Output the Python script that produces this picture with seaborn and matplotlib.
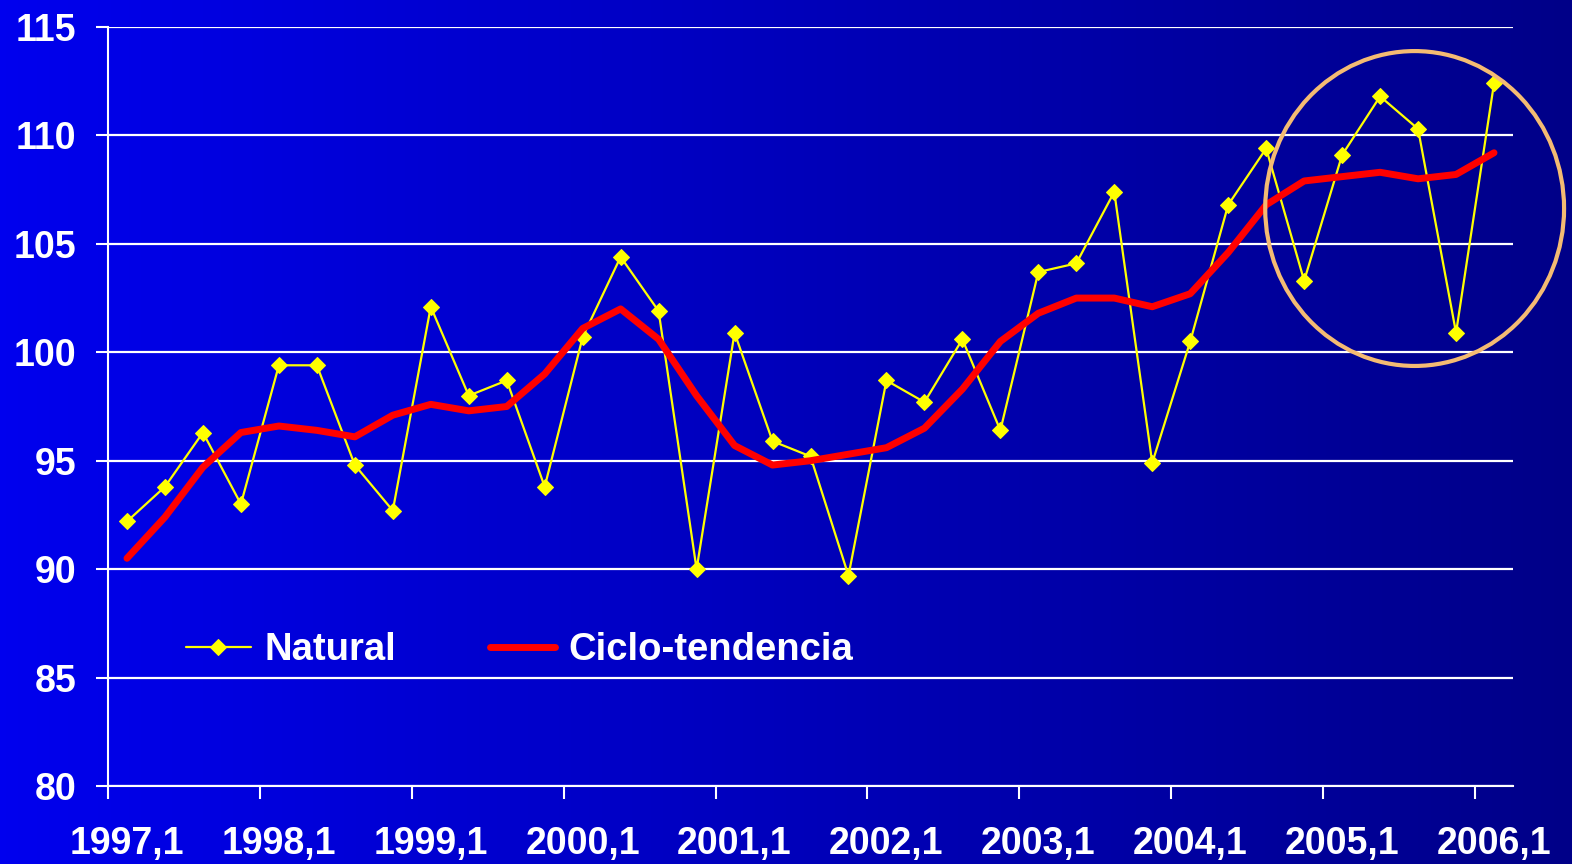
import numpy as np
import pandas as pd
import matplotlib
matplotlib.use("Agg")
import matplotlib.pyplot as plt
from matplotlib.colors import LinearSegmentedColormap
from matplotlib.patches import Ellipse
import seaborn as sns

# quarterly index, 1997 Q1 .. 2006 Q1
natural = [92.2, 93.8, 96.3, 93.0, 99.4, 99.4, 94.8, 92.7,
           102.1, 98.0, 98.7, 93.8, 100.7, 104.4, 101.9, 90.0,
           100.9, 95.9, 95.2, 89.7, 98.7, 97.7, 100.6, 96.4,
           103.7, 104.1, 107.4, 94.9, 100.5, 106.8, 109.4, 103.3,
           109.1, 111.8, 110.3, 100.9, 112.4]
ciclo = [90.5, 92.4, 94.7, 96.3, 96.6, 96.4, 96.1, 97.1,
         97.6, 97.3, 97.5, 99.0, 101.1, 102.0, 100.6, 98.0,
         95.7, 94.8, 95.0, 95.3, 95.6, 96.5, 98.3, 100.5,
         101.8, 102.5, 102.5, 102.1, 102.7, 104.6, 106.8, 107.9,
         108.1, 108.3, 108.0, 108.2, 109.2]
year_labels = ["1997,1", "1998,1", "1999,1", "2000,1", "2001,1",
               "2002,1", "2003,1", "2004,1", "2005,1", "2006,1"]

df = pd.DataFrame({"t": np.arange(len(natural)), "Natural": natural,
                   "Ciclo-tendencia": ciclo})

sns.set_style("white")
plt.rcParams["font.family"] = ["Liberation Sans", "DejaVu Sans"]
plt.rcParams["font.weight"] = "bold"

fig = plt.figure(figsize=(15.72, 8.64), dpi=100)

# blue gradient background
bg = fig.add_axes([0, 0, 1, 1], zorder=-10)
cmap = LinearSegmentedColormap.from_list("bg", ["#0000EE", "#000088"])
bg.imshow(np.linspace(0, 1, 256).reshape(1, -1), aspect="auto", cmap=cmap,
          extent=[0, 1, 0, 1])
bg.axis("off")

ax = fig.add_axes([108 / 1572, 1 - 786 / 864, 1405 / 1572, 759 / 864])
ax.patch.set_alpha(0)

sns.lineplot(data=df, x="t", y="Natural", ax=ax, color="#FFFF00", lw=1.6,
             marker="D", markersize=8.5, markeredgecolor="#FFFF00",
             label="Natural", zorder=3)
sns.lineplot(data=df, x="t", y="Ciclo-tendencia", ax=ax, color="#FF0000",
             lw=5, label="Ciclo-tendencia", zorder=4,
             solid_capstyle="round")

ax.set_xlim(-0.5, len(natural) - 0.5)
ax.set_ylim(80, 115)
ax.set_xlabel("")
ax.set_ylabel("")

ax.set_yticks(range(80, 116, 5))
ax.set_xticks(np.arange(-0.5, len(natural), 4))
ax.set_xticks(np.arange(0, len(natural), 4), minor=True)
ax.set_xticklabels([], minor=False)
ax.set_xticklabels(year_labels, minor=True)

ax.tick_params(axis="x", which="major", bottom=True, length=9, width=1.5,
               color="white", direction="out")
ax.tick_params(axis="x", which="minor", bottom=True, length=0, pad=29,
               labelsize=27, labelcolor="white")
ax.tick_params(axis="y", left=True, length=9, width=1.5, color="white",
               direction="out", pad=14, labelsize=27, labelcolor="white")

ax.yaxis.grid(True, color="white", lw=1.6)
ax.xaxis.grid(False)
ax.set_axisbelow(True)
for s in ["top", "right"]:
    ax.spines[s].set_visible(False)
for s in ["left", "bottom"]:
    ax.spines[s].set_color("white")
    ax.spines[s].set_linewidth(1.5)

leg = ax.legend(loc="center left", bbox_to_anchor=(186 / 1572, 1 - 650 / 864),
                bbox_transform=fig.transFigure, ncol=2, frameon=False,
                fontsize=27.5, handlelength=1.7, handletextpad=0.35,
                columnspacing=2.45, borderpad=0, borderaxespad=0)
for txt in leg.get_texts():
    txt.set_color("white")

# highlight of the last year
ax.add_patch(Ellipse((33.91, 106.63), 7.87, 14.52, fill=False,
                     ec="#F4BB73", lw=3, clip_on=False, zorder=5))

fig.savefig("out.png", dpi=100)
